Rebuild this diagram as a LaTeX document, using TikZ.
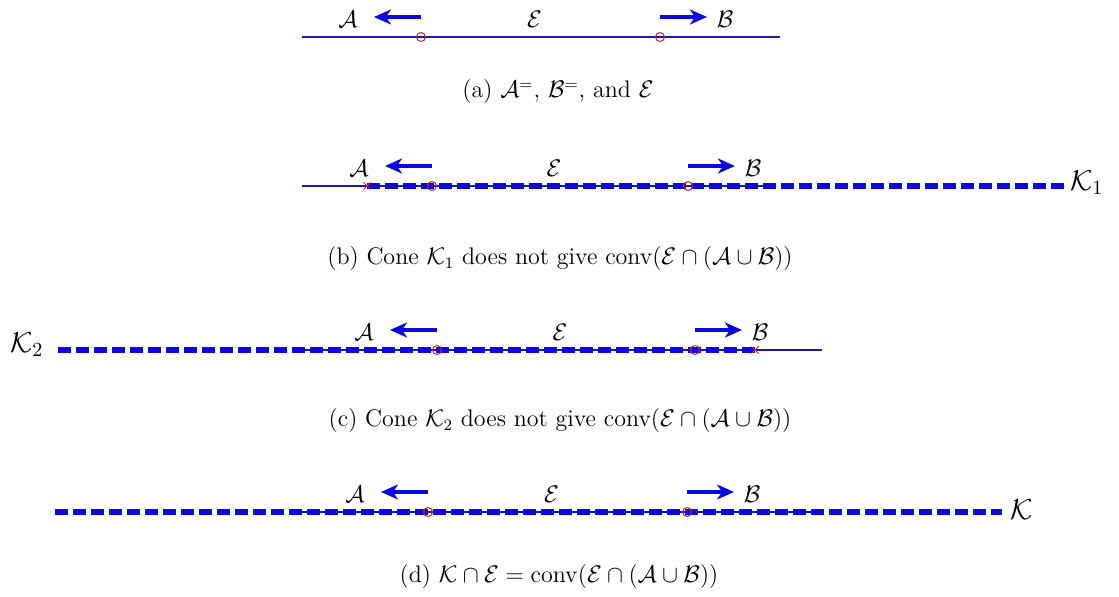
\documentclass[tikz,border=0pt]{standalone}
\usetikzlibrary{arrows.meta,positioning,calc,shapes.misc}
\definecolor{ink}{HTML}{1A1AA8}
\definecolor{cone}{HTML}{0A0AE0}
\definecolor{redpt}{HTML}{D0203C}
\tikzset{eln/.style={draw=ink,line width=1pt},
  cn/.style={draw=cone,line width=3pt,dash pattern=on 6.5pt off 2.5pt},
  dir/.style={draw=cone,line width=1.8pt,-{Stealth[length=8.5pt,width=7.5pt,inset=2.5pt]}},
  ptc/.style={circle,draw=redpt,line width=.5pt,minimum size=4.5pt,inner sep=0pt},
  xm/.style={cross out,draw=redpt,line width=.5pt,minimum size=3pt,inner sep=0pt},
  lab/.style={inner sep=0pt,font=\large},
  klab/.style={inner sep=0pt,font=\Large,anchor=west},
  capt/.style={inner sep=0pt,font=\large}}
\newcommand{\eline}[6]{%
\coordinate (#1L) at (#3,#2);
\coordinate (#1R) at (#6,#2);
\coordinate (#1p) at (#4,#2);
\coordinate (#1q) at (#5,#2);
\draw[eln] (#1L) -- (#1R);
\coordinate (#1at) at ($(#1p)+(0,-20)$);
\coordinate (#1ah) at ($(#1at)+(-47,0)$);
\coordinate (#1bt) at ($(#1q)+(0,-20)$);
\coordinate (#1bh) at ($(#1bt)+(47,0)$);
\draw[dir] (#1at) -- (#1ah);
\draw[dir] (#1bt) -- (#1bh);
\node[lab] (#1A) at ($(#1p)+(-73,-18)$) {$\mathcal{A}$};
\node[lab] (#1E) at ($(#1p)!.5!(#1q)+(-6,-18)$) {$\mathcal{E}$};
\node[lab] (#1B) at ($(#1q)+(65,-18)$) {$\mathcal{B}$};}
\newcommand{\epts}[1]{%
\node[ptc] (#1pc) at (#1p) {};
\node[ptc] (#1qc) at (#1q) {};}

\begin{document}
\begin{tikzpicture}[x=0.5pt,y=-0.5pt]
\useasboundingbox (0,0) rectangle (1119,597);
\eline{a}{37}{302}{421}{660}{780}
\epts{a}
\node[capt] (capa) at (558,92) {(a) $\mathcal{A}^{=}$, $\mathcal{B}^{=}$, and $\mathcal{E}$};

\eline{b}{186}{302}{432}{688}{775}
\coordinate (b0) at (367,186);
\coordinate (b1) at (1066,186);
\draw[cn] (b0) -- (b1);
\node[xm] (bx) at (b0) {};
\epts{b}
\node[klab] (bK) at (1070,183) {$\mathcal{K}_1$};
\node[capt] (capb) at (560,259) {(b) Cone $\mathcal{K}_1$ does not give conv$(\mathcal{E}\cap(\mathcal{A}\cup\mathcal{B}))$};

\eline{c}{350}{301}{437}{695}{822}
\coordinate (c0) at (58,350);
\coordinate (c1) at (755,350);
\draw[cn] (c0) -- (c1);
\node[xm] (cx) at (c1) {};
\epts{c}
\node[klab] (cK) at (10,345) {$\mathcal{K}_2$};
\node[capt] (capc) at (560,421) {(c) Cone $\mathcal{K}_2$ does not give conv$(\mathcal{E}\cap(\mathcal{A}\cup\mathcal{B}))$};

\eline{d}{512}{293}{428}{687}{813}
\coordinate (d0) at (55,512);
\coordinate (d1) at (1002,512);
\draw[cn] (d0) -- (d1);
\epts{d}
\node[klab] (dK) at (1010,510) {$\mathcal{K}$};
\node[capt] (capd) at (559,577) {(d) $\mathcal{K}\cap\mathcal{E}=\mathrm{conv}(\mathcal{E}\cap(\mathcal{A}\cup\mathcal{B}))$};
\end{tikzpicture}
\end{document}
